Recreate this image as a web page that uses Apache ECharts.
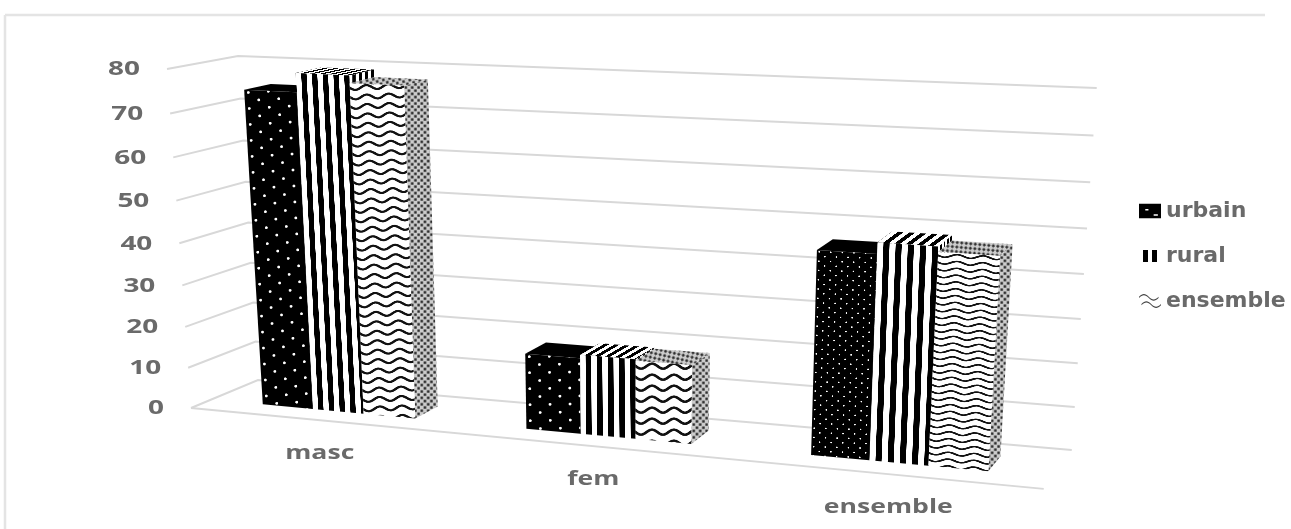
<!DOCTYPE html>
<html>
<head>
<meta charset="utf-8">
<style>
html,body{margin:0;padding:0;background:#fff;overflow:hidden}
#main{width:1291px;height:529px;filter:blur(0.6px)}
</style>
<script src="https://cdn.jsdelivr.net/npm/echarts@6/dist/echarts.min.js"></script>
</head>
<body>
<div id="main"></div>
<script>
// ---- data ----
const categories = ['masc', 'fem', 'ensemble'];
const tickLabels = [0, 10, 20, 30, 40, 50, 60, 70, 80];
const urbain = [75, 18, 46.5];
const rural = [79.3, 18.8, 49];
const ensemble = [77.6, 18.5, 47.8];

// ---- 3D view: corners of the chart box on screen ----
const floorFL = [191, 408], floorFR = [1045, 489], floorBL = [258, 380], floorBR = [1073, 450];
const roofFL = [167, 69], roofFR = [1068, 113], roofBL = [238, 56], roofBR = [1098, 88];
const depthFront = 0.3, depthBack = 0.69, bandFill = 0.196 * 3;

const lerp = (a, b, k) => [a[0] + (b[0] - a[0]) * k, a[1] + (b[1] - a[1]) * k];
function project(t, v, s) {
  const u = 0.886 * t + 0.1125 * t * t;
  const w = 0.943 * s + 0.057 * s * s;
  const low = lerp(lerp(floorFL, floorFR, u), lerp(floorBL, floorBR, u), v);
  const high = lerp(lerp(roofFL, roofFR, u), lerp(roofBL, roofBR, u), v);
  return lerp(low, high, w);
}
// scale position (hidden axes) -> normalised box coordinates
function norm(api, params, cat, val) {
  const c = api.coord([cat, val]), r = params.coordSys;
  return [(c[0] - r.x) / r.width, (r.y + r.height - c[1]) / r.height];
}

// ---- fill tiles ----
function tile(w, h, draw) {
  const c = document.createElement('canvas');
  c.width = w; c.height = h;
  draw(c.getContext('2d'), w, h);
  return c;
}
const dotsTile = tile(40, 32, (g) => {
  g.fillStyle = '#000'; g.fillRect(0, 0, 40, 32);
  g.fillStyle = '#fff';
  [[8, 6], [28, 22]].forEach(p => { g.beginPath(); g.arc(p[0], p[1], 2.8, 0, 7); g.fill(); });
});
const stripeTile = tile(40, 4, (g) => {
  g.fillStyle = '#fff'; g.fillRect(0, 0, 40, 4);
  g.fillStyle = '#000'; g.fillRect(20, 0, 20, 4);
});
const waveTile = tile(36, 22, (g) => {
  g.fillStyle = '#fff'; g.fillRect(0, 0, 36, 22);
  g.strokeStyle = '#111'; g.lineWidth = 5;
  g.beginPath();
  for (let x = -2; x <= 38; x++) {
    const y = 11 + 5 * Math.sin(x / 36 * 2 * Math.PI);
    x === -2 ? g.moveTo(x, y) : g.lineTo(x, y);
  }
  g.stroke();
});
const speckTile = tile(8, 8, (g) => {
  g.fillStyle = '#cccccc'; g.fillRect(0, 0, 8, 8);
  g.fillStyle = '#303030';
  g.fillRect(0.5, 0.5, 3.2, 3.2); g.fillRect(4.5, 4.5, 3.2, 3.2);
});
const waveRowScale = [0.43, 0.5, 0.31];
const waveColScale = [0.61, 0.61, 0.72];
const dotScale = [1, 1, 0.58];

function angleOf(from, to) { return Math.atan2(to[0] - from[0], -(to[1] - from[1])); }

function facePattern(kind, corner, dir, horizPeriod, cat) {
  const rotation = angleOf(corner, dir);
  const base = { repeat: 'repeat', x: corner[0], y: corner[1], rotation };
  if (kind === 'dots') {
    return Object.assign(base, { image: dotsTile, scaleX: 0.5 * dotScale[cat], scaleY: 0.5 * dotScale[cat] });
  }
  if (kind === 'stripes') {
    return Object.assign(base, { image: stripeTile, scaleX: horizPeriod * Math.abs(Math.cos(rotation)) / 40, scaleY: 1 });
  }
  if (kind === 'waves') {
    return Object.assign(base, { image: waveTile, scaleX: waveColScale[cat], scaleY: waveRowScale[cat] });
  }
  return Object.assign(base, { image: speckTile, scaleX: 0.8, scaleY: 0.8 });
}

const looks = [
  { front: 'dots', top: 'solid', side: 'solid' },
  { front: 'stripes', top: 'stripes', side: 'stripes' },
  { front: 'waves', top: 'speck', side: 'speck' }
];

function barRenderer(k) {
  return function (params, api) {
    const cat = api.value(0), val = api.value(1);
    const n = norm(api, params, cat, val);
    const band = api.size([1, 0])[0] / params.coordSys.width;
    const barT = band * bandFill / 3;
    const t0 = n[0] - band * bandFill / 2 + k * barT, t1 = t0 + barT, s = n[1];
    const fBL = project(t0, depthFront, 0), fBR = project(t1, depthFront, 0);
    const fTL = project(t0, depthFront, s), fTR = project(t1, depthFront, s);
    const bTL = project(t0, depthBack, s), bTR = project(t1, depthBack, s);
    const bBR = project(t1, depthBack, 0);
    const look = looks[k];
    const w = fTR[0] - fTL[0];
    const sideW = bTR[0] - fTR[0];
    const face = (pts, kind, corner, dir, period) => ({
      type: 'polygon',
      shape: { points: pts },
      style: { fill: kind === 'solid' ? '#000' : facePattern(kind, corner, dir, period, cat) }
    });
    return {
      type: 'group',
      children: [
        face([fTR, bTR, bBR, fBR], look.side, fTR, [fTR[0], fTR[1] - 10], sideW / 4),
        face([fTL, fTR, bTR, bTL], look.top, fTL, bTL, w / 5),
        face([fBL, fBR, fTR, fTL], look.front, fTL, [fTL[0] + (fTL[0] - fBL[0]), fTL[1] + (fTL[1] - fBL[1])], w / 5)
      ]
    };
  };
}

const gridColor = '#d8d8d8';
const textColor = '#6a6a6a';
const gridSeries = {
  type: 'custom', silent: true, encode: { x: 0, y: 1 }, z: 1,
  data: tickLabels.map(v => [0, v]),
  renderItem(params, api) {
    const s = norm(api, params, 0, api.value(1))[1];
    const pts = [project(0, 0, s), project(0, 1, s), project(1, 1, s)];
    const kids = [{ type: 'polyline', shape: { points: pts }, style: { stroke: gridColor, lineWidth: 2, fill: 'none' } }];
    if (s === 0) {
      kids.push({ type: 'polyline', shape: { points: [project(0, 0, 0), project(1, 0, 0)] }, style: { stroke: gridColor, lineWidth: 2, fill: 'none' } });
    }
    const a = project(0, 0, s);
    kids.push({
      type: 'text', x: a[0] - 27, y: a[1] + 1, scaleX: 1.47,
      style: { text: String(api.value(1)), align: 'right', verticalAlign: 'middle', fontFamily: 'Open Sans', fontWeight: 700, fontSize: 19, fill: textColor }
    });
    return { type: 'group', children: kids };
  }
};
const labelSeries = {
  type: 'custom', silent: true, encode: { x: 0, y: 1 }, z: 5,
  data: categories.map((c, i) => [i, 0]),
  renderItem(params, api) {
    const i = api.value(0);
    const n = norm(api, params, i, 0);
    const a = project(n[0], 0, 0);
    return {
      type: 'text', x: a[0], y: a[1] + 33, scaleX: 1.4,
      style: { text: categories[i], align: 'center', verticalAlign: 'middle', fontFamily: 'Open Sans', fontWeight: 700, fontSize: 19, fill: textColor }
    };
  }
};
const names = ['urbain', 'rural', 'ensemble'];
const barSeries = [urbain, rural, ensemble].map((vals, k) => ({
  type: 'custom', name: names[k], silent: true, z: 3, encode: { x: 0, y: 1 },
  data: vals.map((v, i) => [i, v]),
  renderItem: barRenderer(k)
}));

const chart = echarts.init(document.getElementById('main'), null, { renderer: 'canvas' });
chart.setOption({
  animation: false,
  backgroundColor: '#fff',
  grid: { left: 0, right: 0, top: 0, bottom: 0 },
  xAxis: { type: 'category', data: categories, show: false },
  yAxis: { type: 'value', min: 0, max: 80, interval: 10, show: false },
  legend: {
    orient: 'vertical', left: 1139, top: 200, padding: 0, itemWidth: 22, itemHeight: 15, itemGap: 23,
    selectedMode: false,
    textStyle: { fontFamily: 'DejaVu Sans', fontWeight: 'bold', fontSize: 22, color: textColor },
    data: [
      { name: 'urbain', icon: 'path://M0 0H21V14H0ZM6 5V6.5H9V5ZM14 10V11.5H18V10Z', itemStyle: { color: '#000' } },
      { name: 'rural', icon: 'path://M-4 -1h0M0 0h5v12h-5zM9 0h5v12h-5zM18 13h0', itemStyle: { color: '#000' } },
      { name: 'ensemble', icon: 'path://M0 3C3 0 5 0 8 3S13 6 16 3L16 4C13 7 11 7 8 4S3 1 0 4zM2 9C5 6 7 6 10 9S15 12 18 9L18 10C15 13 13 13 10 10S5 7 2 10z', itemStyle: { color: '#444' } }
    ]
  },
  graphic: [
    { type: 'line', shape: { x1: 5, y1: 15, x2: 1265, y2: 15 }, style: { stroke: '#e4e4e4', lineWidth: 2.5 } },
    { type: 'line', shape: { x1: 5, y1: 15, x2: 5, y2: 529 }, style: { stroke: '#e4e4e4', lineWidth: 2.5 } }
  ],
  series: [gridSeries, labelSeries].concat(barSeries)
});
</script>
</body>
</html>
